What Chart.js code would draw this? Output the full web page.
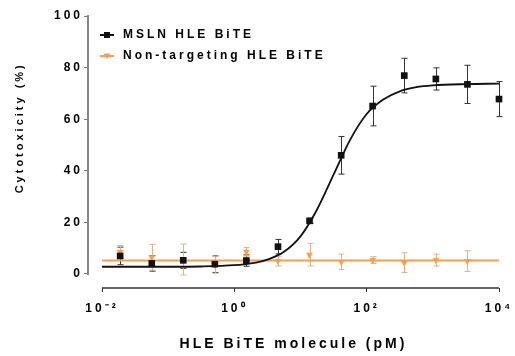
<!DOCTYPE html>
<html>
<head>
<meta charset="utf-8">
<script src="https://cdn.jsdelivr.net/npm/chart.js@4"></script>
<style>
html, body { margin: 0; padding: 0; background: #fff; }
</style>
</head>
<body>
<canvas id="chart" width="515" height="356"></canvas>
<script>
// concentrations in pM (3-fold dilution series)
const conc = [0.0188, 0.0565, 0.169, 0.508, 1.52, 4.57, 13.7, 41.2, 123, 370, 1111, 3333, 10000];

// MSLN HLE BiTE, mean and error
const mslnVals = [7.0, 4.1, 5.3, 3.8, 5.2, 10.6, 20.6, 46.0, 65.1, 76.9, 75.6, 73.5, 67.8];
const mslnErr = [3.4, 3.0, 3.1, 3.2, 2.2, 2.8, 1.0, 7.3, 7.7, 6.7, 4.3, 7.4, 6.8];

// Non-targeting HLE BiTE (no point at the top dose)
const ntVals = [8.5, 6.5, 5.6, 3.5, 8.6, 5.0, 7.5, 4.7, 5.4, 4.4, 5.4, 5.0];
const ntErr = [2.5, 5.0, 6.0, 3.2, 1.7, 1.9, 4.4, 3.0, 1.3, 3.8, 2.3, 4.0];

// fitted curves
const fitConc = [0.01, 0.0316, 0.1, 0.316, 1, 1.78, 3.16, 5.62, 10, 17.8, 31.6, 56.2, 100, 178, 316, 562, 1000, 3162, 10000];
const mslnFit = [2.8, 2.8, 2.8, 2.9, 3.4, 4.1, 5.6, 8.6, 14.6, 25.0, 38.5, 52.0, 62.0, 67.6, 70.8, 72.4, 73.1, 73.6, 73.8];
const ntFitConc = [0.01, 10000];
const ntFit = [5.2, 5.2];

const xTicks = [0.01, 1, 100, 10000];
const xTickLabels = ['10\u207B\u00B2', '10\u2070', '10\u00B2', '10\u2074'];
const yTicks = [0, 20, 40, 60, 80, 100];

const labels = ['MSLN HLE BiTE', 'Non-targeting HLE BiTE'];
const black = '#111111';
const orange = '#f5a04a';

function pts(xs, ys) {
  return ys.map((y, i) => ({ x: xs[i], y: y }));
}

// small legend icons: line with the marker in the middle
function legendIcon(color, tri) {
  const c = document.createElement('canvas');
  c.width = 14; c.height = 8;
  const g = c.getContext('2d');
  g.strokeStyle = color; g.lineWidth = 2;
  g.beginPath(); g.moveTo(0, 4); g.lineTo(14, 4); g.stroke();
  g.fillStyle = color;
  g.beginPath();
  if (tri) { g.moveTo(3.5, 1.5); g.lineTo(10.5, 1.5); g.lineTo(7, 7); }
  else g.rect(4, 1, 6, 6);
  g.fill();
  return c;
}
const icons = [legendIcon(black, false), legendIcon(orange, true)];

const errorBars = {
  id: 'errorBars',
  beforeDatasetsDraw(chart) {
    const ctx = chart.ctx;
    const xs = chart.scales.x, ys = chart.scales.y;
    const sets = [[conc, mslnVals, mslnErr, '#333333'], [conc, ntVals, ntErr, '#d9b48c']];
    ctx.save();
    ctx.lineWidth = 1;
    sets.forEach(([cx, v, e, col]) => {
      ctx.strokeStyle = col;
      v.forEach((val, i) => {
        const px = Math.round(xs.getPixelForValue(cx[i])) + 0.5;
        const top = ys.getPixelForValue(val + e[i]);
        const bot = ys.getPixelForValue(val - e[i]);
        ctx.beginPath();
        ctx.moveTo(px, top); ctx.lineTo(px, bot);
        ctx.moveTo(px - 3, top); ctx.lineTo(px + 3, top);
        ctx.moveTo(px - 3, bot); ctx.lineTo(px + 3, bot);
        ctx.stroke();
      });
    });
    ctx.restore();
  }
};

// offset axis lines (Prism style): y line 0..100, x line 10^-2..10^4
const axisLines = {
  id: 'axisLines',
  afterDraw(chart) {
    const ctx = chart.ctx;
    const xs = chart.scales.x, ys = chart.scales.y;
    const yx = ys.right;
    const xy = xs.top;
    ctx.save();
    ctx.lineWidth = 2;
    ctx.strokeStyle = '#888888';
    ctx.beginPath();
    ctx.moveTo(yx, ys.getPixelForValue(100) - 1);
    ctx.lineTo(yx, ys.getPixelForValue(0) + 1);
    ctx.stroke();
    ctx.lineWidth = 1.5;
    ctx.strokeStyle = '#333333';
    ctx.beginPath();
    ctx.moveTo(xs.getPixelForValue(0.01), xy);
    ctx.lineTo(xs.getPixelForValue(10000), xy);
    ctx.stroke();
    ctx.restore();
  }
};

const spacing = {
  id: 'spacing',
  beforeLayout(chart) { chart.ctx.letterSpacing = '3px'; },
  // legend sits inside the plot, a bit below its top edge
  afterLayout(chart) { chart.legend.top += 20; chart.legend.bottom += 20; },
  beforeDraw(chart) { chart.ctx.letterSpacing = '3px'; }
};

new Chart(document.getElementById('chart'), {
  type: 'scatter',
  data: {
    datasets: [
      { label: labels[0], data: pts(conc, mslnVals), pointStyle: 'rect', pointRadius: 4.7, clip: false,
        backgroundColor: black, borderColor: black, borderWidth: 0, showLine: false },
      { label: labels[1], data: pts(conc, ntVals), pointStyle: 'triangle', rotation: 180, pointRadius: 4, clip: false,
        backgroundColor: orange, borderColor: orange, borderWidth: 0, showLine: false },
      { label: 'fit1', data: pts(fitConc, mslnFit), showLine: true, pointRadius: 0, clip: false,
        borderColor: black, borderWidth: 1.8, cubicInterpolationMode: 'monotone' },
      { label: 'fit2', data: pts(ntFitConc, ntFit), showLine: true, pointRadius: 0, clip: false,
        borderColor: orange, borderWidth: 2 }
    ]
  },
  options: {
    responsive: false,
    animation: false,
    layout: { padding: { top: 16, right: 16, left: 0, bottom: 0 } },
    scales: {
      x: {
        type: 'logarithmic',
        min: 0.006142, max: 10000,
        afterBuildTicks: s => { s.ticks = xTicks.map(v => ({ value: v })); },
        afterFit: s => { s.height = 68; s.paddingLeft = 0; s.paddingRight = 0; },
        border: { display: false },
        grid: { drawOnChartArea: false, drawTicks: true, tickLength: 4, color: '#333333' },
        ticks: {
          autoSkip: false, maxRotation: 0, padding: 9, color: '#000',
          font: { family: 'Liberation Sans', size: 12, weight: 'bold' },
          callback: (v, i) => xTickLabels[i]
        },
        title: {
          display: true, text: 'HLE BiTE molecule (pM)', color: '#000',
          font: { family: 'Liberation Sans', size: 14, weight: 'bold' },
          padding: { top: 0, bottom: 3 }
        }
      },
      y: {
        min: -5.43, max: 100,
        afterBuildTicks: s => { s.ticks = yTicks.map(v => ({ value: v })); },
        afterFit: s => { s.width = 88; },
        border: { display: false },
        grid: { drawOnChartArea: false, drawTicks: true, tickLength: 4, color: '#777777' },
        ticks: {
          padding: 1, color: '#000',
          font: { family: 'Liberation Sans', size: 12, weight: 'bold' }
        },
        title: {
          display: true, text: '        Cytotoxicity (%)', color: '#000',
          font: { family: 'Liberation Sans', size: 11, weight: 'bold' },
          padding: { top: 13, bottom: 0 }
        }
      }
    },
    plugins: {
      tooltip: { enabled: false },
      legend: {
        position: 'chartArea',
        align: 'start',
        labels: {
          usePointStyle: true,
          pointStyleWidth: 20,
          padding: 9,
          color: '#000',
          font: { family: 'Liberation Sans', size: 12, weight: 'bold' },
          filter: item => item.datasetIndex < 2,
          generateLabels: chart => labels.map((t, i) => ({
            text: t, datasetIndex: i, pointStyle: icons[i],
            fillStyle: i ? orange : black, strokeStyle: i ? orange : black, lineWidth: 0, hidden: false
          }))
        }
      }
    }
  },
  plugins: [spacing, errorBars, axisLines]
});
</script>
</body>
</html>
